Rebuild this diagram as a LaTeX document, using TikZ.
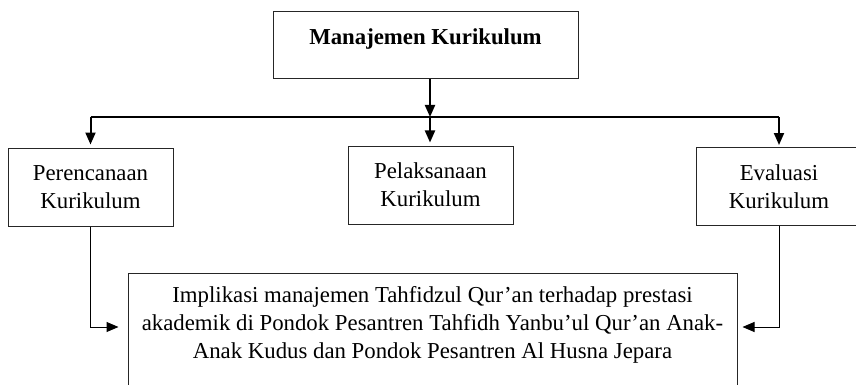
\documentclass[tikz,border=0pt]{standalone}
\usepackage{fontspec}
\setmainfont{Liberation Serif}
\usetikzlibrary{arrows.meta,positioning}

\begin{document}
\begin{tikzpicture}[
    x=0.5pt, y=-0.5pt,
    >={Triangle[length=6pt,width=5pt]},
    font=\fontsize{11.4}{14}\selectfont,
    box/.style={draw=black!85,line width=0.5pt,align=center,inner sep=0},
    sub/.style={box,minimum width=82.5pt,minimum height=39pt},
    arr/.style={->,line width=1pt},
    link/.style={->,line width=0.5pt}
    ]
    \useasboundingbox (0,0) rectangle (856,385);

    \node [box,minimum width=152.5pt,text height=16.5pt,text depth=17pt] (mk) at (425.5,45.5) {\textbf{Manajemen Kurikulum}};

    \node [sub] (plan) at (90.5,187) {Perencanaan\\Kurikulum};
    \node [sub] (pel) at (430.5,185) {Pelaksanaan\\Kurikulum};
    \node [sub] (eval) at (779,186.5) {Evaluasi\\Kurikulum};

    \node [box,anchor=north,minimum width=304.5pt,minimum height=100pt] (impl) at (432.5,273) {};
    \node [anchor=north,align=center,inner sep=0] (impltxt) at (432.5,286.5)
      {Implikasi manajemen Tahfidzul Qur’an terhadap prestasi\\
       akademik di Pondok Pesantren Tahfidh Yanbu’ul Qur’an Anak-\\
       Anak Kudus dan Pondok Pesantren Al Husna Jepara};

    % branch bar
    \coordinate (bar) at (430,117);
    \draw [line width=1pt] (bar -| plan.north) -- (bar -| eval.north);
    \draw [arr] (mk.south -| bar) -- (bar);
    \draw [arr,shorten >=1.5pt] (bar) -- (bar |- pel.north);
    \draw [arr,shorten >=1.5pt] (bar -| plan.north) -- (plan.north);
    \draw [arr,shorten >=1pt] (bar -| eval.north) -- (eval.north);

    % into the result
    \draw [link,shorten >=4.5pt] (plan.south) |- ([yshift=-27pt]impl.north west);
    \draw [link,shorten >=2.5pt] (eval.south) |- ([yshift=-27pt]impl.north east);
\end{tikzpicture}
\end{document}
